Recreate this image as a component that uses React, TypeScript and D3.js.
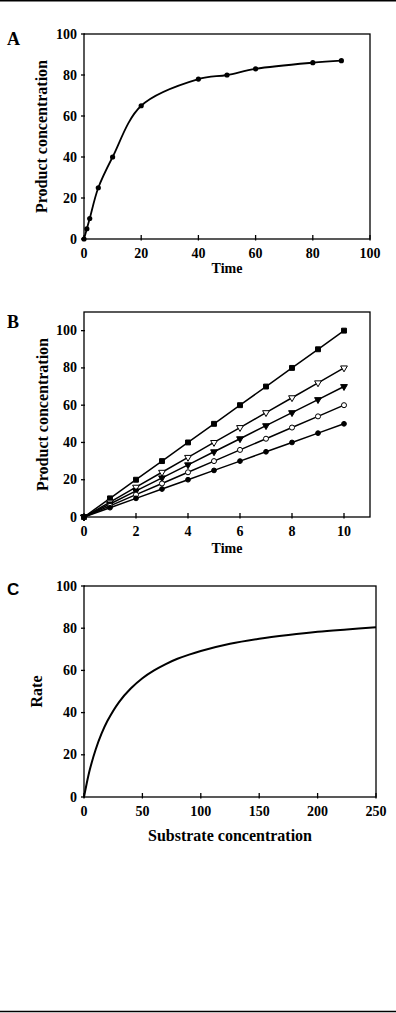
import React from "react";
import * as d3 from "d3";

// panel A: product vs time
const timeA = [0, 1, 2, 5, 10, 20, 40, 50, 60, 80, 90];
const productA = [0, 5, 10, 25, 40, 65, 78, 80, 83, 86, 87];

// panel B: product vs time, five runs
const timeB = [0, 1, 2, 3, 4, 5, 6, 7, 8, 9, 10];
const runSquare = [0, 10, 20, 30, 40, 50, 60, 70, 80, 90, 100];
const runTriOpen = [0, 8, 16, 24, 32, 40, 48, 56, 64, 72, 80];
const runTriFill = [0, 7, 14, 21, 28, 35, 42, 49, 56, 63, 70];
const runCircOpen = [0, 6, 12, 18, 24, 30, 36, 42, 48, 54, 60];
const runCircFill = [0, 5, 10, 15, 20, 25, 30, 35, 40, 45, 50];

// panel C: rate vs substrate
const substrate = [0, 2, 5, 10, 15, 20, 30, 40, 50, 60, 70, 80, 90, 100, 125, 150, 175, 200, 225, 250];
const rate = [0, 5.6, 13, 22.5, 30, 36, 45, 51.4, 56.3, 60, 63, 65.5, 67.5, 69.2, 72.6, 75, 76.8, 78.3, 79.4, 80.4];

const ticksA = [0, 20, 40, 60, 80, 100];
const ticksBx = [0, 2, 4, 6, 8, 10];
const ticksBy = [0, 20, 40, 60, 80, 100];
const ticksCx = [0, 50, 100, 150, 200, 250];
const ticksCy = [0, 20, 40, 60, 80, 100];

const serif = "'Liberation Serif', 'Times New Roman', serif";
const sans = "'Liberation Sans', Arial, sans-serif";

type FrameProps = {
  x: d3.ScaleLinear<number, number>;
  y: d3.ScaleLinear<number, number>;
  xticks: number[];
  yticks: number[];
  xlabel: string;
  ylabel: string;
  xlabelDy: number;
  ylabelX: number;
  xlabelSize: number;
};

const Frame = ({ x, y, xticks, yticks, xlabel, ylabel, xlabelDy, ylabelX, xlabelSize }: FrameProps) => {
  const [x0, x1] = x.range();
  const [y0, y1] = y.range();
  return (
    <g>
      <rect x={x0} y={y1} width={x1 - x0} height={y0 - y1} fill="none" stroke="#000" strokeWidth={1.3} />
      {xticks.map((t) => (
        <g key={"x" + t}>
          <line x1={x(t)} x2={x(t)} y1={y0 - 4} y2={y0 + 1.5} stroke="#000" strokeWidth={1.3} />
          <text x={x(t)} y={y0 + 19} textAnchor="middle" fontSize={14} fontWeight="bold" fontFamily={serif}>
            {t}
          </text>
        </g>
      ))}
      {yticks.map((t) => (
        <g key={"y" + t}>
          <line x1={x0 - 3} x2={x0 + 1} y1={y(t)} y2={y(t)} stroke="#000" strokeWidth={1.3} />
          <text x={x0 - 7} y={y(t) + 4.5} textAnchor="end" fontSize={14} fontWeight="bold" fontFamily={serif}>
            {t}
          </text>
        </g>
      ))}
      <text
        x={(x0 + x1) / 2}
        y={y0 + xlabelDy}
        textAnchor="middle"
        fontSize={xlabelSize}
        fontWeight="bold"
        fontFamily={serif}
      >
        {xlabel}
      </text>
      <text
        transform={`translate(${ylabelX},${(y0 + y1) / 2}) rotate(-90)`}
        textAnchor="middle"
        fontSize={16}
        fontWeight="bold"
        fontFamily={serif}
      >
        {ylabel}
      </text>
    </g>
  );
};

const App = () => {
  // A
  const xA = d3.scaleLinear().domain([0, 100]).range([84, 370]);
  const yA = d3.scaleLinear().domain([0, 100]).range([239, 34]);
  const lineA = d3
    .line<number>()
    .x((d, i) => xA(timeA[i]))
    .y((d) => yA(d))
    .curve(d3.curveCatmullRom);

  // B
  const xB = d3.scaleLinear().domain([0, 11]).range([84, 370]);
  const yB = d3.scaleLinear().domain([0, 110]).range([517, 312]);
  const lineB = d3
    .line<number>()
    .x((d, i) => xB(timeB[i]))
    .y((d) => yB(d));
  const runs = [
    { vals: runSquare, shape: d3.symbolSquare, size: 24, fill: "#000", rot: 0 },
    { vals: runTriOpen, shape: d3.symbolTriangle, size: 20, fill: "#fff", rot: 180 },
    { vals: runTriFill, shape: d3.symbolTriangle, size: 20, fill: "#000", rot: 180 },
    { vals: runCircOpen, shape: d3.symbolCircle, size: 20, fill: "#fff", rot: 0 },
    { vals: runCircFill, shape: d3.symbolCircle, size: 18, fill: "#000", rot: 0 },
  ];

  // C
  const xC = d3.scaleLinear().domain([0, 250]).range([84, 376]);
  const yC = d3.scaleLinear().domain([0, 100]).range([797, 586]);
  const lineC = d3
    .line<number>()
    .x((d, i) => xC(substrate[i]))
    .y((d) => yC(d))
    .curve(d3.curveCatmullRom);

  return (
    <svg width={396} height={1013} style={{ position: "absolute", left: 0, top: 0, background: "#fff" }}>
      <line x1={0} x2={396} y1={0.75} y2={0.75} stroke="#000" strokeWidth={1.5} />
      <line x1={0} x2={396} y1={1011.5} y2={1011.5} stroke="#000" strokeWidth={1.5} />

      {/* A */}
      <text x={7} y={45} fontSize={18} fontWeight="bold" fontFamily={serif}>A</text>
      <Frame x={xA} y={yA} xticks={ticksA} yticks={ticksA} xlabel="Time" ylabel="Product concentration"
        xlabelDy={34} ylabelX={47} xlabelSize={14} />
      <path d={lineA(productA) || ""} fill="none" stroke="#000" strokeWidth={1.8} />
      {productA.map((v, i) => (
        <circle key={i} cx={xA(timeA[i])} cy={yA(v)} r={2.6} fill="#000" />
      ))}

      {/* B */}
      <text x={7} y={328} fontSize={18} fontWeight="bold" fontFamily={serif}>B</text>
      <Frame x={xB} y={yB} xticks={ticksBx} yticks={ticksBy} xlabel="Time" ylabel="Product concentration"
        xlabelDy={36} ylabelX={48} xlabelSize={14} />
      {runs.map((r, k) => (
        <g key={k}>
          <path d={lineB(r.vals) || ""} fill="none" stroke="#000" strokeWidth={1.5} />
          {r.vals.map((v, i) => (
            <path
              key={i}
              transform={`translate(${xB(timeB[i])},${yB(v)}) rotate(${r.rot})`}
              d={d3.symbol().type(r.shape).size(r.size)() || ""}
              fill={r.fill}
              stroke="#000"
              strokeWidth={1}
            />
          ))}
        </g>
      ))}

      {/* C */}
      <text x={7} y={595} fontSize={17} fontWeight="bold" fontFamily={sans}>C</text>
      <Frame x={xC} y={yC} xticks={ticksCx} yticks={ticksCy} xlabel="Substrate concentration" ylabel="Rate"
        xlabelDy={44} ylabelX={42} xlabelSize={16} />
      <path d={lineC(rate) || ""} fill="none" stroke="#000" strokeWidth={2} />
    </svg>
  );
};

export default App;
